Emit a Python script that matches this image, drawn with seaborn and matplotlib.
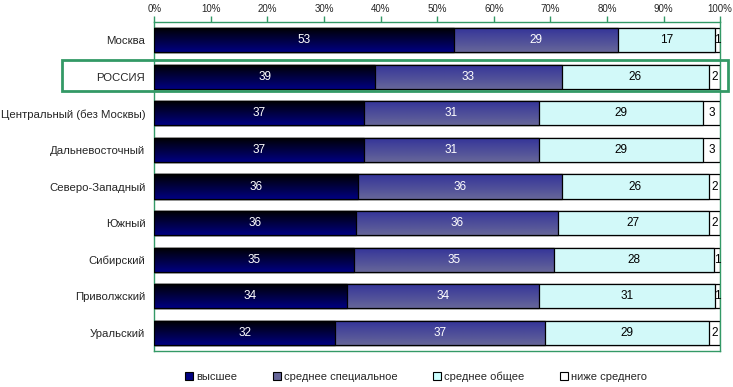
import numpy as np
import pandas as pd
import matplotlib
matplotlib.use("Agg")
import matplotlib.pyplot as plt
import seaborn as sns
from matplotlib.patches import Patch, Rectangle
from matplotlib.colors import LinearSegmentedColormap

# data (percent)
regions = ["Москва", "РОССИЯ", "Центральный (без Москвы)", "Дальневосточный",
           "Северо-Западный", "Южный", "Сибирский", "Приволжский", "Уральский"]
higher = [53, 39, 37, 37, 36, 36, 35, 34, 32]
special = [29, 33, 31, 31, 36, 36, 35, 34, 37]
general = [17, 26, 29, 29, 26, 27, 28, 31, 29]
below = [1, 2, 3, 3, 2, 2, 1, 1, 2]
series_names = ["высшее", "среднее специальное", "среднее общее", "ниже среднего"]

df = pd.DataFrame({"region": regions, "h": higher, "s": special, "g": general, "b": below})
tot = df[["h", "s", "g", "b"]].sum(axis=1)
shares = df[["h", "s", "g", "b"]].div(tot, axis=0) * 100
cum = shares.cumsum(axis=1)

sns.set_style("white")
plt.rcParams["font.family"] = ["Liberation Sans", "DejaVu Sans"]

green = "#339966"
fig = plt.figure(figsize=(7.33, 3.87), dpi=100)
ax = fig.add_axes([0.2105, 0.093, 0.772, 0.850])

# stacked bars: longest cumulative bar first, shorter ones on top
layers = [("b", "white", None), ("g", "#ccffff", None),
          ("s", "#666699", ("#333399", "#666699")),
          ("h", "#000080", ("#000000", "#000080"))]
for i, (col, color, grad) in enumerate(layers):
    sns.barplot(x=cum[col], y=df["region"], orient="h", color=color,
                edgecolor="black", linewidth=0.9, width=0.66, ax=ax)
    cont = ax.containers[-1]
    for p in cont:
        p.set_zorder(2 + i)
        if grad is not None:
            cmap = LinearSegmentedColormap.from_list("g%d" % i, list(grad))
            x0, y0 = p.get_x(), p.get_y()
            w, h = p.get_width(), p.get_height()
            im = ax.imshow(np.linspace(0, 1, 64).reshape(-1, 1), cmap=cmap,
                           aspect="auto", extent=(x0, x0 + w, y0 + h, y0),
                           origin="upper", zorder=1.95 + i, interpolation="bilinear")
            im.set_clip_path(p)
            p.set_facecolor("none")

ax.set_xlim(0, 100)
ax.set_ylim(len(regions) - 0.5, -0.5)

# value labels, centred in each segment
keys = ["h", "s", "g", "b"]
txt_colors = ["white", "white", "black", "black"]
for r in range(len(regions)):
    left = 0
    for k, tc in zip(keys, txt_colors):
        v = shares.loc[r, k]
        ax.text(left + v / 2, r, str(df.loc[r, k]), ha="center", va="center",
                fontsize=8.5, color=tc, zorder=10)
        left += v

ax.xaxis.tick_top()
ax.set_xticks(np.arange(0, 101, 10))
ax.set_xticklabels(["%d%%" % t for t in range(0, 101, 10)], fontsize=7)
ax.tick_params(axis="x", top=True, direction="out", length=4, color=green, pad=2, width=1)
ax.tick_params(axis="y", left=False, labelsize=8.2, pad=3)
ax.set_xlabel("")
ax.set_ylabel("")
for s in ax.spines.values():
    s.set_color(green)
    s.set_linewidth(1)

# highlight frame around РОССИЯ
fig.add_artist(Rectangle((62 / 733, 1 - 91 / 387), (728 - 62) / 733, 31 / 387,
                         fill=False, edgecolor=green, linewidth=2, zorder=20))

handles = [Patch(facecolor=c, edgecolor="black", linewidth=0.8)
           for c in ["#000080", "#666699", "#ccffff", "white"]]
fig.legend(handles, series_names, loc="center", bbox_to_anchor=(0.568, 0.027),
           ncol=4, frameon=False, fontsize=8, handlelength=0.7, handleheight=0.7,
           handletextpad=0.3, columnspacing=3.2)

fig.savefig("out.png", dpi=100)
